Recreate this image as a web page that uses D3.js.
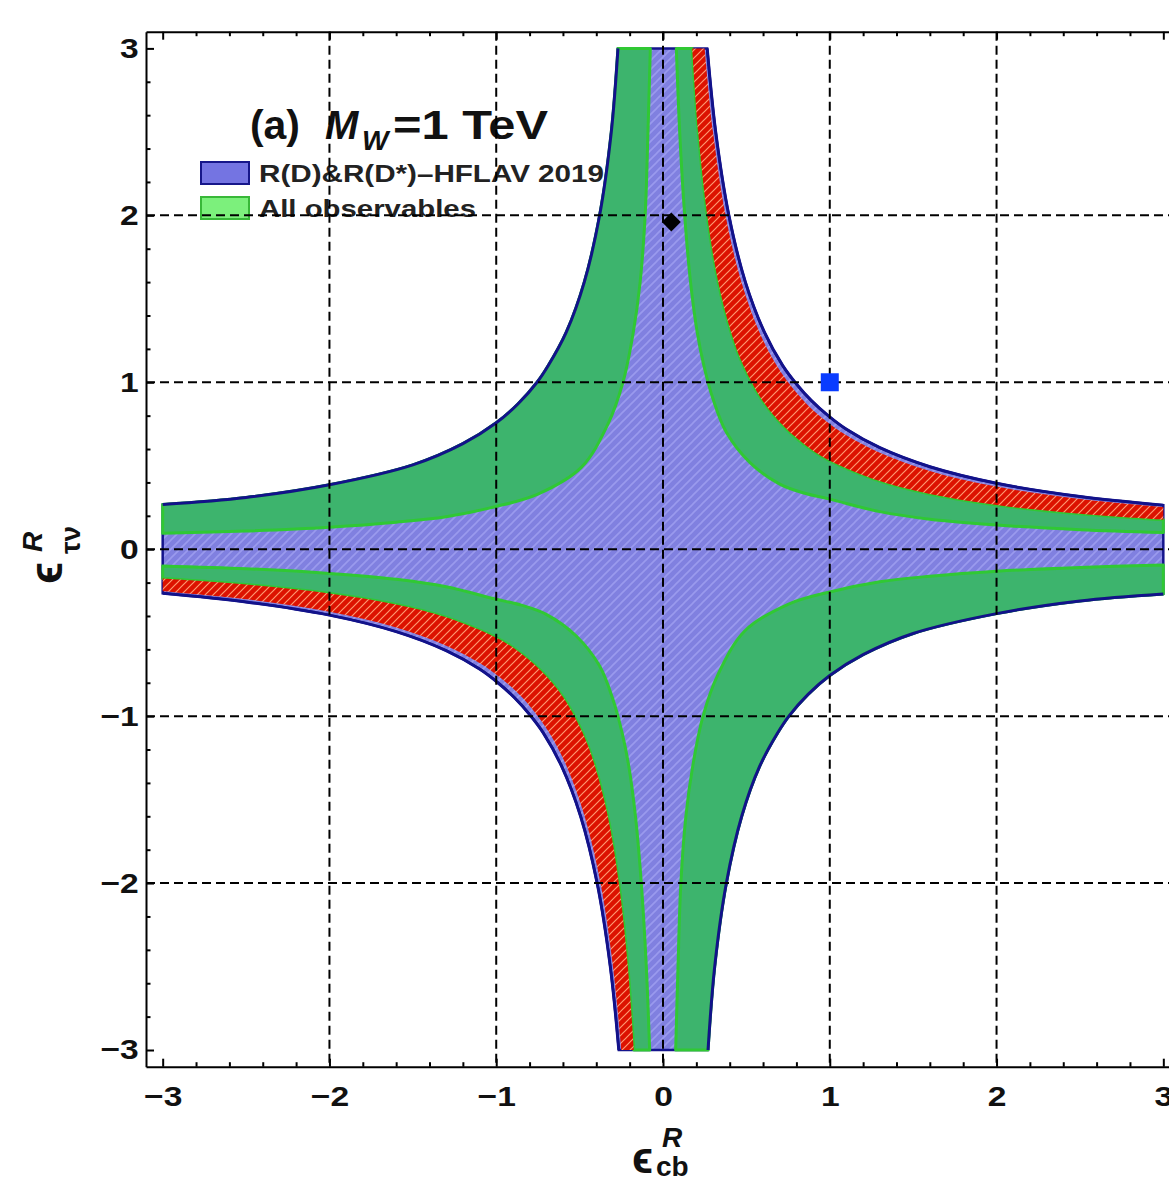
<!DOCTYPE html>
<html><head><meta charset="utf-8">
<script src="https://cdn.jsdelivr.net/npm/d3@7"></script>
<style>body{margin:0;background:#fff} svg{display:block}</style>
</head><body>
<svg id="c" width="1169" height="1183"></svg>
<script>
// ---------------- data ----------------
const xTicks = [-3, -2, -1, 0, 1, 2, 3];
const yTicks = [-3, -2, -1, 0, 1, 2, 3];
const gridValues = [-2, -1, 0, 1, 2];
const legendLabels = ["R(D)&R(D*)\u2013HFLAV 2019", "All observables"];

// Quadrant I (eps_cb * eps_tv > 0): boundary curves, from top edge to right edge
const outerPos = [[0.265,3.0],[0.316,2.5],[0.395,2.0],[0.494,1.6],[0.608,1.3],[0.718,1.1],[0.8,0.99],[0.89,0.89],[0.99,0.8],[1.1,0.718],[1.3,0.608],[1.6,0.494],[2.0,0.395],[2.5,0.316],[3.0,0.264]];
const redOuterPos = [[0.25,3.0],[0.3,2.5],[0.375,2.0],[0.47,1.6],[0.578,1.3],[0.682,1.1],[0.77,0.975],[0.866,0.866],[0.975,0.77],[1.1,0.682],[1.3,0.578],[1.6,0.469],[2.0,0.375],[2.5,0.3],[3.0,0.252]];
const redInnerPos = [[0.175,3.0],[0.211,2.5],[0.265,2.0],[0.331,1.6],[0.408,1.3],[0.482,1.1],[0.6,0.885],[0.73,0.73],[0.885,0.6],[1.0,0.53],[1.3,0.408],[1.6,0.331],[2.0,0.265],[2.5,0.212],[3.0,0.176]];
const greenInnerPos = [[0.08,3.0],[0.1,2.5],[0.13,2.0],[0.165,1.6],[0.205,1.3],[0.245,1.1],[0.3,0.9],[0.38,0.7],[0.52,0.52],[0.7,0.39],[0.85,0.335],[1.0,0.3],[1.3,0.225],[1.6,0.18],[2.0,0.145],[2.5,0.117],[3.0,0.1]];
// Quadrant IV (product < 0): boundary curves, from bottom edge to right edge
const outerNeg = [[0.27,-3.0],[0.31,-2.5],[0.38,-2.0],[0.472,-1.6],[0.58,-1.3],[0.688,-1.1],[0.755,-1.0],[0.87,-0.87],[1.0,-0.757],[1.2,-0.632],[1.5,-0.505],[2.0,-0.386],[2.5,-0.31],[3.0,-0.268]];
const greenInnerNeg = [[0.076,-3.0],[0.09,-2.5],[0.107,-2.0],[0.137,-1.6],[0.178,-1.3],[0.24,-1.0],[0.33,-0.75],[0.49,-0.49],[0.75,-0.33],[1.0,-0.256],[1.3,-0.195],[1.6,-0.162],[2.0,-0.132],[2.5,-0.109],[3.0,-0.095]];

const bestFit = [[0.05, 1.96]];
const benchmark = [[1, 1]];

// ---------------- drawing ----------------
(function () {
const svg = d3.select("#c");
const FONT = "'Liberation Sans', Arial, Helvetica, sans-serif";
const x = d3.scaleLinear().domain([-3.1, 3.1]).range([146, 1180]);
const y = d3.scaleLinear().domain([-3.1, 3.1]).range([1066.7, 31.7]);

const neg = pts => pts.map(p => [-p[0], -p[1]]);
const rev = pts => pts.slice().reverse();
const lineGen = d3.line().x(d => x(d[0])).y(d => y(d[1])).curve(d3.curveCatmullRom.alpha(0.5));
function joinPath(segs) {
  return segs.map((s, i) => { const p = lineGen(s); return i === 0 ? p : "L" + p.slice(1); }).join("") + "Z";
}
function band(a, b) { return joinPath([a, rev(b)]); }

// patterns
const defs = svg.append("defs");
const pb = defs.append("pattern").attr("id", "hatchBlue").attr("patternUnits", "userSpaceOnUse").attr("width", 9).attr("height", 9);
pb.append("rect").attr("width", 9).attr("height", 9).attr("fill", "#8080e0");
pb.append("path").attr("d", "M-1,1 l2,-2 M0,9 l9,-9 M8,10 l2,-2").attr("stroke", "#9a9aee").attr("stroke-width", 1.6);
const pr = defs.append("pattern").attr("id", "hatchRed").attr("patternUnits", "userSpaceOnUse").attr("width", 8).attr("height", 8);
pr.append("rect").attr("width", 8).attr("height", 8).attr("fill", "#dc1200");
pr.append("path").attr("d", "M-1,1 l2,-2 M0,8 l8,-8 M7,9 l2,-2").attr("stroke", "#ff9870").attr("stroke-width", 1.2);

const regions = svg.append("g");
regions.append("path")
  .attr("d", joinPath([outerPos, rev(outerNeg), neg(outerPos), rev(neg(outerNeg))]))
  .attr("fill", "url(#hatchBlue)").attr("stroke", "#14148c").attr("stroke-width", 2.5);

const greenBands = [band(greenInnerPos, redInnerPos), band(neg(greenInnerPos), neg(redInnerPos)),
                    band(greenInnerNeg, outerNeg), band(neg(greenInnerNeg), neg(outerNeg))];
regions.selectAll("path.green").data(greenBands).join("path").attr("class", "green")
  .attr("d", d => d).attr("fill", "#3db46d").attr("stroke", "#30c834").attr("stroke-width", 3).attr("stroke-linejoin", "round");

const redBands = [band(redInnerPos, redOuterPos), band(neg(redInnerPos), neg(redOuterPos))];
regions.selectAll("path.red").data(redBands).join("path").attr("class", "red")
  .attr("d", d => d).attr("fill", "url(#hatchRed)");

const outerCurves = [outerPos, neg(outerPos), outerNeg, neg(outerNeg)];
regions.selectAll("path.outer").data(outerCurves).join("path").attr("class", "outer")
  .attr("d", d => lineGen(d)).attr("fill", "none").attr("stroke", "#12128a").attr("stroke-width", 3);

// title
const title = svg.append("g").attr("font-family", FONT).attr("font-weight", "bold").attr("fill", "#111");
title.append("text").attr("x", 250).attr("y", 139).attr("font-size", 40).attr("textLength", 50).attr("lengthAdjust", "spacingAndGlyphs").text("(a)");
title.append("text").attr("x", 325).attr("y", 139).attr("font-size", 40).attr("font-style", "italic").text("M");
title.append("text").attr("x", 362).attr("y", 150).attr("font-size", 28).attr("font-style", "italic").text("W");
title.append("text").attr("x", 393).attr("y", 139).attr("font-size", 40).attr("textLength", 155).attr("lengthAdjust", "spacingAndGlyphs").text("=1 TeV");

// legend
const legend = svg.append("g").attr("font-family", FONT).attr("font-weight", "bold");
const legendStyles = [{fill: "#7474e2", stroke: "#16168a", w: 345}, {fill: "#7cf07c", stroke: "#38b838", w: 217}];
legendLabels.forEach((lab, i) => {
  const y0 = 162 + i * 35;
  legend.append("rect").attr("x", 201).attr("y", y0).attr("width", 48).attr("height", 22)
    .attr("fill", legendStyles[i].fill).attr("stroke", legendStyles[i].stroke).attr("stroke-width", 2);
  legend.append("text").attr("x", 259).attr("y", y0 + 20).attr("font-size", 24).attr("fill", "#222")
    .attr("textLength", legendStyles[i].w).attr("lengthAdjust", "spacingAndGlyphs").text(lab);
});

// dashed grid
const grid = svg.append("g").attr("stroke", "#000").attr("stroke-width", 2).attr("stroke-dasharray", "9,5");
grid.selectAll("line.v").data(gridValues).join("line").attr("class", "v")
  .attr("x1", d => x(d)).attr("x2", d => x(d)).attr("y1", y(3.1)).attr("y2", y(-3.1));
grid.selectAll("line.h").data(gridValues).join("line").attr("class", "h")
  .attr("y1", d => y(d)).attr("y2", d => y(d)).attr("x1", x(-3.1)).attr("x2", x(3.1));

// axes / frame
const fmt = d => d < 0 ? "\u2212" + Math.abs(d) : String(d);
const minor = d3.range(-30, 31, 2).filter(v => v % 10 !== 0).map(v => v / 10);
function styleAxis(g) {
  g.select(".domain").attr("stroke", "#000").attr("stroke-width", 2);
  g.selectAll(".tick line").attr("stroke", "#000").attr("stroke-width", 2);
  g.selectAll("text").attr("font-family", FONT).attr("font-weight", "bold").attr("font-size", 28)
    .attr("fill", "#111").attr("transform", "scale(1.2,1)");
}
const minorStyle = g => { g.select(".domain").remove(); g.selectAll("line").attr("stroke-width", 2); };
const axes = svg.append("g");
const axB = axes.append("g").attr("transform", `translate(0,${y(-3.1)})`)
  .call(d3.axisBottom(x).tickValues(xTicks).tickSize(-8).tickSizeOuter(0).tickPadding(19).tickFormat(fmt));
styleAxis(axB);
axes.append("g").attr("transform", `translate(0,${y(-3.1)})`)
  .call(d3.axisBottom(x).tickValues(minor).tickSize(-4.5).tickSizeOuter(0).tickFormat("")).call(minorStyle);
const axL = axes.append("g").attr("transform", `translate(${x(-3.1)},0)`)
  .call(d3.axisLeft(y).tickValues(yTicks).tickSize(-8).tickSizeOuter(0).tickPadding(6).tickFormat(fmt));
styleAxis(axL);
axes.append("g").attr("transform", `translate(${x(-3.1)},0)`)
  .call(d3.axisLeft(y).tickValues(minor).tickSize(-4.5).tickSizeOuter(0).tickFormat("")).call(minorStyle);
const axT = axes.append("g").attr("transform", `translate(0,${y(3.1)})`)
  .call(d3.axisTop(x).tickValues(xTicks).tickSize(-8).tickSizeOuter(0).tickFormat(""));
styleAxis(axT);
axes.append("g").attr("transform", `translate(0,${y(3.1)})`)
  .call(d3.axisTop(x).tickValues(minor).tickSize(-4.5).tickSizeOuter(0).tickFormat("")).call(minorStyle);
const axR = axes.append("g").attr("transform", `translate(${x(3.1)},0)`)
  .call(d3.axisRight(y).tickValues(yTicks).tickSize(-8).tickSizeOuter(0).tickFormat(""));
styleAxis(axR);

// axis titles
const xt = svg.append("g").attr("font-family", FONT).attr("font-weight", "bold").attr("fill", "#111");
xt.append("text").attr("x", 632).attr("y", 1173).attr("font-size", 44).text("\u03f5");
xt.append("text").attr("x", 662).attr("y", 1147).attr("font-size", 28).attr("font-style", "italic").text("R");
xt.append("text").attr("x", 656).attr("y", 1176).attr("font-size", 28).text("cb");

const yt = svg.append("g").attr("font-family", FONT).attr("font-weight", "bold").attr("fill", "#111")
  .attr("transform", "translate(62,584) rotate(-90)");
yt.append("text").attr("x", 0).attr("y", 0).attr("font-size", 46).text("\u03f5");
yt.append("text").attr("x", 32).attr("y", -20).attr("font-size", 28).attr("font-style", "italic").text("R");
yt.append("text").attr("x", 30).attr("y", 18).attr("font-size", 28).text("\u03c4\u03bd");

// markers
svg.selectAll("path.best").data(bestFit).join("path").attr("class", "best")
  .attr("transform", d => `translate(${x(d[0])},${y(d[1])}) rotate(45)`)
  .attr("d", d3.symbol().type(d3.symbolSquare).size(180)).attr("fill", "#000");
svg.selectAll("rect.bench").data(benchmark).join("rect").attr("class", "bench")
  .attr("x", d => x(d[0]) - 9).attr("y", d => y(d[1]) - 9).attr("width", 18).attr("height", 18)
  .attr("fill", "#0a3cff");
})();
</script>
</body></html>
